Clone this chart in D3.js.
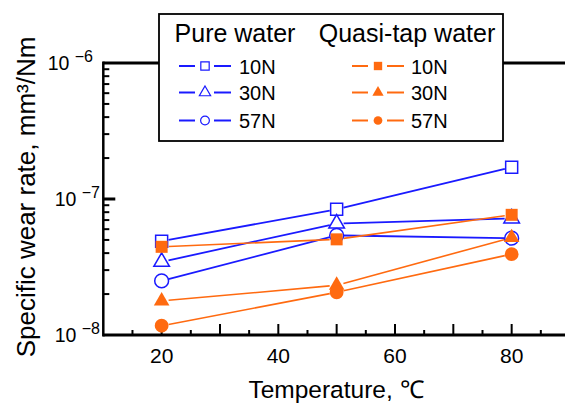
<!DOCTYPE html>
<html>
<head>
<meta charset="utf-8">
<script src="https://cdn.jsdelivr.net/npm/d3@7"></script>
<style>
body { margin:0; background:#fff; }
text { font-family: "Liberation Sans", Arial, sans-serif; fill:#000; }
</style>
</head>
<body>
<script>
var width = 565, height = 404

// temperatures (deg C) and specific wear rates (mm3/Nm)
var temps = [20, 50, 80]
var pure10 = [4.9e-8, 8.4e-8, 1.71e-7]
var pure30 = [3.45e-8, 6.6e-8, 7.2e-8]
var pure57 = [2.5e-8, 5.4e-8, 5.15e-8]
var tap10 = [4.45e-8, 5.05e-8, 7.65e-8]
var tap30 = [1.78e-8, 2.32e-8, 5.2e-8]
var tap57 = [1.17e-8, 2.06e-8, 3.93e-8]
var loads = ["10N", "30N", "57N"]
var groupNames = ["Pure water", "Quasi-tap water"]
var xLabels = [20, 40, 60, 80]
var yDecades = [-6, -7, -8]

var blue = "#1a1aff", orange = "#ff6a10"

var svg = d3.select("body").append("svg").attr("width", width).attr("height", height)

var x = d3.scaleLinear().domain([10, 90]).range([103.3, 570])
var y = d3.scaleLog().domain([1e-8, 1e-6]).range([335, 63])

var shapes = [d3.symbolSquare, d3.symbolTriangle, d3.symbolCircle]
var sizes = [144, 105, 150]

var series = [
    {v: pure10, c: blue, s: 0, fill: false},
    {v: pure30, c: blue, s: 1, fill: false},
    {v: pure57, c: blue, s: 2, fill: false},
    {v: tap10, c: orange, s: 0, fill: true},
    {v: tap30, c: orange, s: 1, fill: true},
    {v: tap57, c: orange, s: 2, fill: true}
]

// axes frame
svg.append("line").attr("x1", x(10)).attr("x2", width).attr("y1", y(1e-6)).attr("y2", y(1e-6))
    .attr("stroke", "#000").attr("stroke-width", 3)
svg.append("line").attr("x1", x(10)).attr("x2", width).attr("y1", y(1e-8)).attr("y2", y(1e-8))
    .attr("stroke", "#000").attr("stroke-width", 3)
svg.append("line").attr("x1", x(10)).attr("x2", x(10)).attr("y1", y(1e-6) - 1.5).attr("y2", y(1e-8) + 1.5)
    .attr("stroke", "#000").attr("stroke-width", 2.5)

// x ticks every 5, long every 10
for (var t = 15; t <= 85; t += 5) {
    var len = (t % 10 == 0) ? 11 : 5
    svg.append("line").attr("x1", x(t)).attr("x2", x(t)).attr("y1", y(1e-8)).attr("y2", y(1e-8) - len)
        .attr("stroke", "#000").attr("stroke-width", 2)
}
svg.selectAll(".xl").data(xLabels).enter().append("text")
    .attr("x", d => x(d)).attr("y", 363).attr("text-anchor", "middle")
    .style("font-size", "21px").text(d => d)

// y ticks (log minor)
for (var e = -8; e < -6; e++) {
    for (var m = 1; m <= 9; m++) {
        var val = m * Math.pow(10, e)
        if (val <= 1e-8) continue
        var l = (m == 1) ? 12 : 6
        svg.append("line").attr("x1", x(10)).attr("x2", x(10) + l).attr("y1", y(val)).attr("y2", y(val))
            .attr("stroke", "#000").attr("stroke-width", m == 1 ? 3 : 2)
    }
}
var yl = svg.selectAll(".yl").data(yDecades).enter().append("text")
    .attr("x", d => d == -6 ? 93 : 100).attr("y", d => y(Math.pow(10, d)) + 6.5).attr("text-anchor", "end")
    .style("font-size", "19.5px")
yl.append("tspan").text("10 ")
yl.append("tspan").attr("dy", -8).style("font-size", "16px").text(d => "\u2212" + (-d))

// axis titles
svg.append("text").attr("x", 336).attr("y", 398).attr("text-anchor", "middle")
    .style("font-size", "24.5px").text("Temperature, \u2103")
svg.append("text").attr("transform", "translate(35,197) rotate(-90)").attr("text-anchor", "middle")
    .style("font-size", "26px").text("Specific wear rate, mm\u00b3/Nm")

// segments shortened so they stop at the marker edge
function seg(p, q, r) {
    var dx = q[0] - p[0], dy = q[1] - p[1], d = Math.sqrt(dx * dx + dy * dy)
    return [p[0] + dx / d * r, p[1] + dy / d * r, q[0] - dx / d * r, q[1] - dy / d * r]
}

series.forEach(function(s) {
    var pts = temps.map((t, i) => [x(t), y(s.v[i])])
    for (var i = 0; i < pts.length - 1; i++) {
        var sg = seg(pts[i], pts[i + 1], 7)
        svg.append("line").attr("x1", sg[0]).attr("y1", sg[1]).attr("x2", sg[2]).attr("y2", sg[3])
            .attr("stroke", s.c).attr("stroke-width", s.fill ? 1.6 : 1.8)
    }
})
series.forEach(function(s) {
    svg.selectAll(null).data(temps).enter().append("path")
        .attr("transform", (t, i) => "translate(" + x(t) + "," + y(s.v[i]) + ")")
        .attr("d", d3.symbol().type(shapes[s.s]).size(sizes[s.s]))
        .attr("fill", s.fill ? s.c : "none")
        .attr("stroke", s.fill ? "none" : s.c).attr("stroke-width", 1.5)
})

// legend
var lg = svg.append("g")
lg.append("rect").attr("x", 159).attr("y", 14).attr("width", 344).attr("height", 127)
    .attr("fill", "#fff").attr("stroke", "#000").attr("stroke-width", 1.8)
lg.append("text").attr("x", 235).attr("y", 42).attr("text-anchor", "middle").style("font-size", "25px").text(groupNames[0])
lg.append("text").attr("x", 407).attr("y", 42).attr("text-anchor", "middle").style("font-size", "25px").text(groupNames[1])
var rowY = [66, 92.5, 120.5]
var legSizes = [70, 55, 60]
series.forEach(function(s, i) {
    var cx = s.fill ? 378 : 205
    var ry = rowY[s.s]
    lg.append("line").attr("x1", cx - 26).attr("x2", cx - 10).attr("y1", ry).attr("y2", ry)
        .attr("stroke", s.c).attr("stroke-width", 2)
    lg.append("line").attr("x1", cx + 9).attr("x2", cx + 26).attr("y1", ry).attr("y2", ry)
        .attr("stroke", s.c).attr("stroke-width", 2)
    lg.append("path").attr("transform", "translate(" + cx + "," + ry + ")")
        .attr("d", d3.symbol().type(shapes[s.s]).size(legSizes[s.s]))
        .attr("fill", s.fill ? s.c : "none")
        .attr("stroke", s.fill ? "none" : s.c).attr("stroke-width", 1.2)
    lg.append("text").attr("x", s.fill ? 411 : 239).attr("y", ry + 7.5).style("font-size", "20px").text(loads[s.s])
})
</script>
</body>
</html>
